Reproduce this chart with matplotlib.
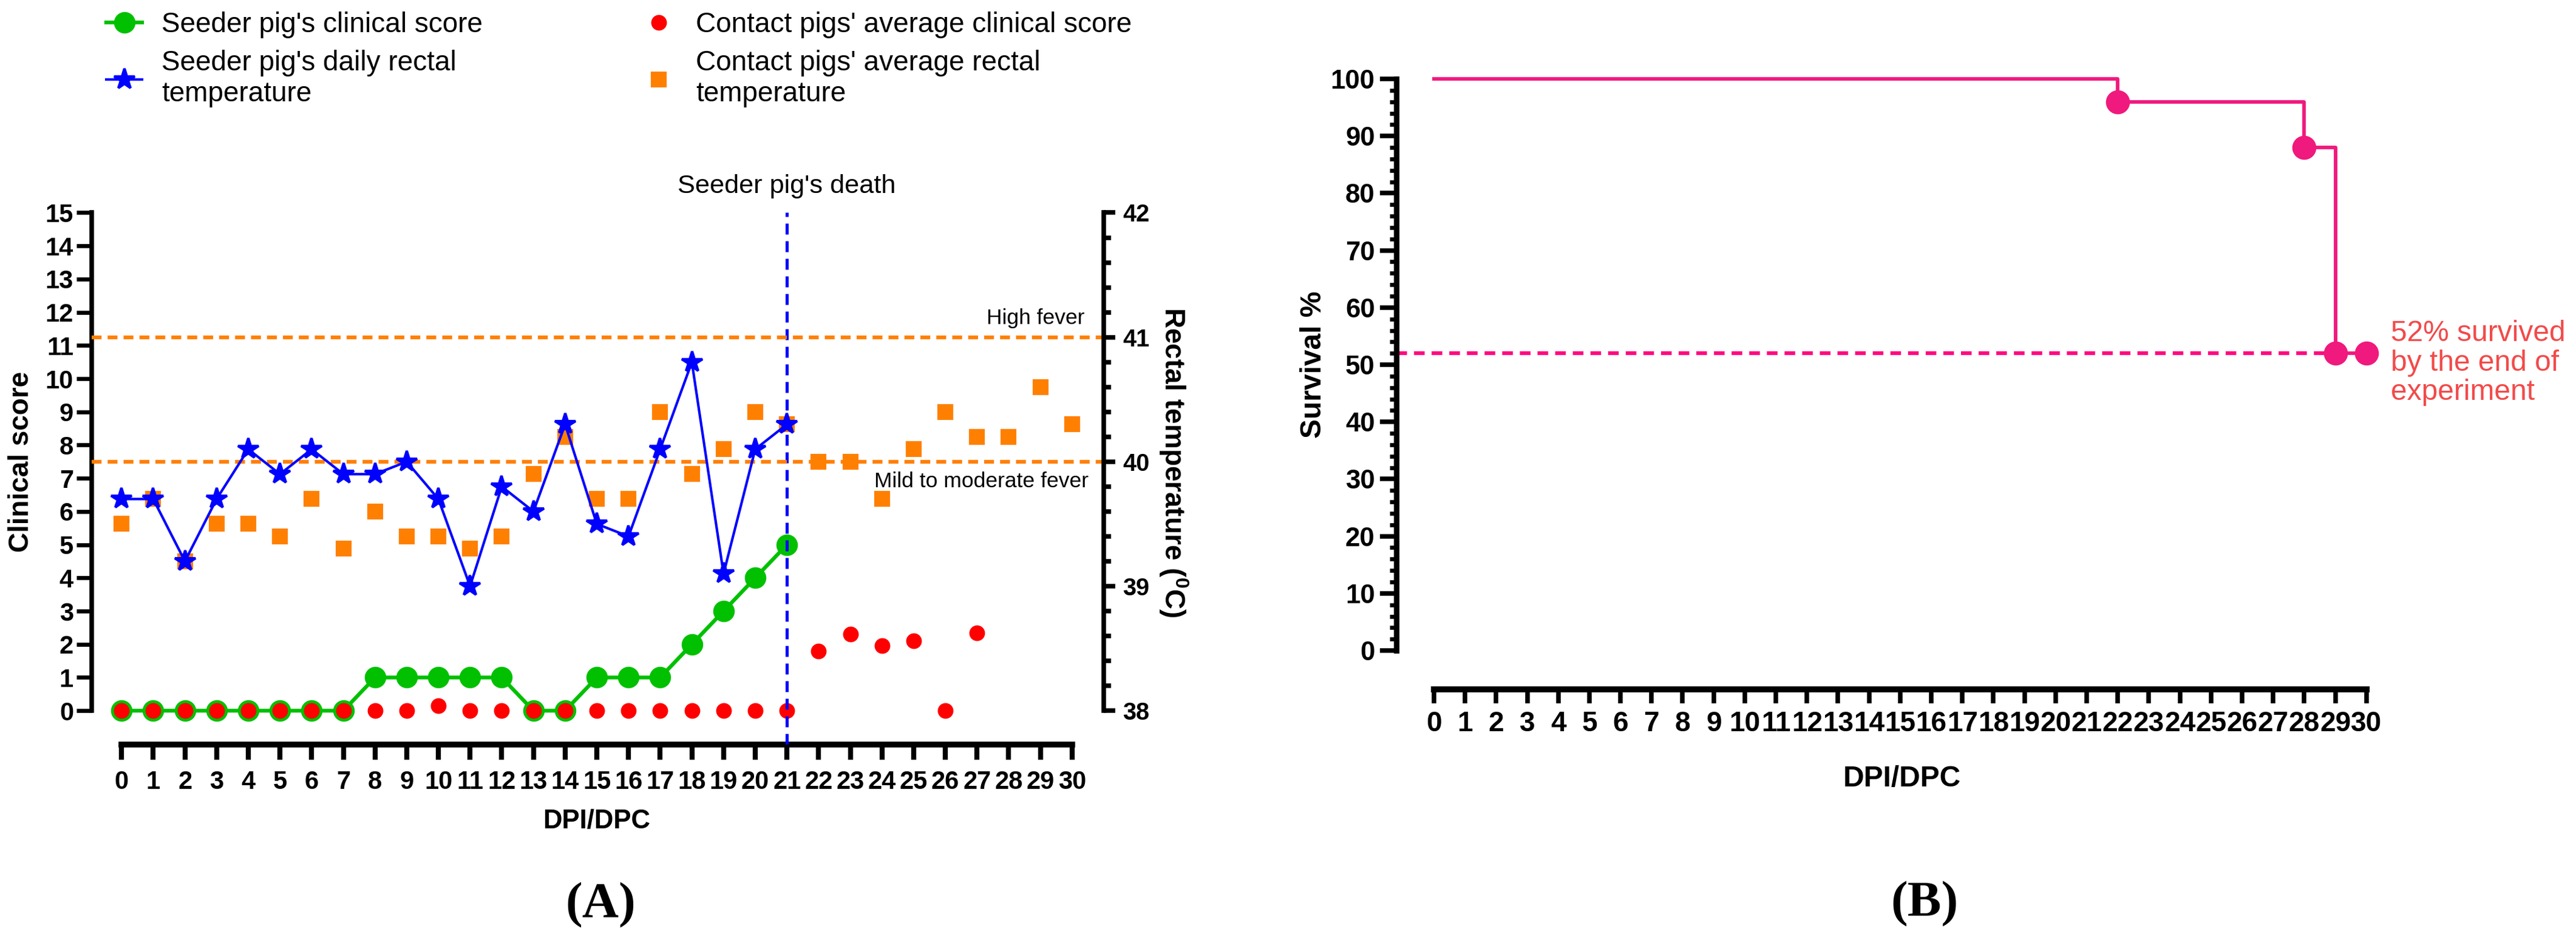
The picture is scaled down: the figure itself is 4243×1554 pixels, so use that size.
import matplotlib
matplotlib.use('Agg')
import numpy as np
import matplotlib.pyplot as plt
from matplotlib.lines import Line2D
from matplotlib.ticker import FixedLocator

plt.rcParams['font.family'] = ['Liberation Sans', 'DejaVu Sans']
plt.rcParams['mathtext.fontset'] = 'custom'
plt.rcParams['mathtext.rm'] = 'Liberation Sans'
plt.rcParams['mathtext.bf'] = 'Liberation Sans:bold'

# ---- data -------------------------------------------------------------
days = list(range(31))
seeder_days = list(range(22))
seeder_score = [0, 0, 0, 0, 0, 0, 0, 0, 1, 1, 1, 1, 1, 0, 0, 1, 1, 1, 2, 3, 4, 5]
seeder_temp = [39.7, 39.7, 39.2, 39.7, 40.1, 39.9, 40.1, 39.9, 39.9, 40.0, 39.7,
               39.0, 39.8, 39.6, 40.3, 39.5, 39.4, 40.1, 40.8, 39.1, 40.1, 40.3]
contact_days = list(range(28))
contact_score = [0, 0, 0, 0, 0, 0, 0, 0, 0, 0, 0.15, 0, 0, 0, 0, 0, 0, 0, 0, 0,
                 0, 0, 1.8, 2.3, 1.95, 2.1, 0, 2.35]
contact_temp = [39.5, 39.7, 39.2, 39.5, 39.5, 39.4, 39.7, 39.3, 39.6, 39.4, 39.4,
                39.3, 39.4, 39.9, 40.2, 39.7, 39.7, 40.4, 39.9, 40.1, 40.4, 40.3,
                40.0, 40.0, 39.7, 40.1, 40.4, 40.2, 40.2, 40.6, 40.3]
high_fever = 41
mild_fever = 40
death_day = 21

surv_days = [0, 22, 28, 29, 30]
surv_pct = [100, 96, 88, 52, 52]
surv_end = 52

# colours
green = '#00C000'
red = '#FF0000'
blue = '#0000FF'
orange = '#FF8000'
pink = '#F0197D'
pink_dash = '#FF0A80'
note_red = '#F24A4A'

FW, FH = 4243.0, 1554.0


def box(x0, y0, x1, y1):
    # pixel box (top-left origin) -> figure fraction rect
    return [x0 / FW, 1 - y1 / FH, (x1 - x0) / FW, (y1 - y0) / FH]


fig = plt.figure(figsize=(FW / 300, FH / 300), dpi=300)

# ---- panel A ----------------------------------------------------------
axA = fig.add_axes(box(151, 345, 1818, 1227))
ylo, yhi = -1.02, 15.1
axA.set_xlim(-0.943, 31.0)
axA.set_ylim(ylo, yhi)

axA.plot(seeder_days, seeder_score, color=green, lw=1.5, marker='o', ms=7.5,
         zorder=3)
axA.plot(contact_days, contact_score, ls='none', color=red, marker='o', ms=5.2,
         zorder=4)
axA.axvline(death_day, ymin=0, ymax=(15 - ylo) / (yhi - ylo), color=blue,
            lw=1.2, ls=(0, (3.6, 2.2)), zorder=5)

for s in ['top', 'right']:
    axA.spines[s].set_visible(False)
axA.spines['left'].set_bounds(0, 15)
axA.spines['bottom'].set_bounds(0, 30)
axA.spines['left'].set_linewidth(1.8)
axA.spines['bottom'].set_linewidth(2.3)

axA.set_yticks(range(16))
axA.set_yticklabels([str(v) for v in range(16)], fontweight='bold')
axA.set_xticks(days)
axA.set_xticklabels([str(d) for d in days], fontweight='bold')
axA.tick_params(axis='y', length=6, width=1.6, labelsize=10, pad=1.2)
axA.tick_params(axis='x', length=6, width=2, labelsize=10, pad=4)

axA.text(-0.0695, 0.528, 'Clinical score', transform=axA.transAxes,
         fontsize=11, fontweight='bold', rotation=90, ha='center',
         va='center')
axA.text(0.4986, -0.143, 'DPI/DPC', transform=axA.transAxes, fontsize=10.5,
         fontweight='bold', ha='center', va='center')
axA.text(death_day, 15.8, "Seeder pig's death", fontsize=10.4, ha='center',
         va='center', clip_on=False)

# temperature axis
ax2 = axA.twinx()
ax2.set_ylim(38 + ylo * 4 / 15, 38 + yhi * 4 / 15)
ax2.plot(days, contact_temp, ls='none', marker='s', ms=5.3, color=orange,
         zorder=2)
ax2.plot(seeder_days, seeder_temp, color=blue, lw=1, marker='*', ms=8.5,
         zorder=3)
ax2.axhline(high_fever, color=orange, lw=1.5, ls=(0, (2.6, 1.6)), zorder=1)
ax2.axhline(mild_fever, color=orange, lw=1.5, ls=(0, (2.6, 1.6)), zorder=1)
ax2.text(30.4, 41.15, 'High fever', fontsize=8.5, ha='right', va='center')
ax2.text(30.53, 39.84, 'Mild to moderate fever', fontsize=8.5, ha='right',
         va='center')

for s in ['top', 'left', 'bottom']:
    ax2.spines[s].set_visible(False)
ax2.spines['right'].set_bounds(38, 42)
ax2.spines['right'].set_linewidth(1.8)
ax2.set_yticks([38, 39, 40, 41, 42])
ax2.set_yticklabels(['38', '39', '40', '41', '42'], fontweight='bold')
ax2.yaxis.set_minor_locator(FixedLocator(np.arange(38, 42.01, 0.2)))
ax2.tick_params(axis='y', which='major', length=4.5, width=1.8, labelsize=9.5,
                pad=3)
ax2.tick_params(axis='y', which='minor', length=2.8, width=1.8)
ax2.text(1.069, 0.528, r'Rectal temperature (${}^{\mathbf{0}}$C)',
         transform=ax2.transAxes, fontsize=11, fontweight='bold',
         rotation=270, ha='center', va='center')

# legend (two columns)
leg_kw = dict(loc='upper left', frameon=False, fontsize=11, borderpad=0,
              borderaxespad=0, handlelength=1.29, handletextpad=0.7,
              labelspacing=0.42)
h1 = [Line2D([], [], color=green, lw=1.5, marker='o', ms=7.5),
      Line2D([], [], color=blue, lw=1, marker='*', ms=8.5)]
fig.legend(h1, ["Seeder pig's clinical score",
                "Seeder pig's daily rectal\ntemperature"],
           bbox_to_anchor=(175 / FW, 1 - 19 / FH), **leg_kw)
h2 = [Line2D([], [], ls='none', color=red, marker='o', ms=5.2),
      Line2D([], [], ls='none', color=orange, marker='s', ms=5.3)]
fig.legend(h2, ["Contact pigs' average clinical score",
                "Contact pigs' average rectal\ntemperature"],
           bbox_to_anchor=(1055 / FW, 1 - 19 / FH), **leg_kw)

fig.text(989 / FW, 1 - 1492 / FH, '(A)', fontsize=20, fontweight='bold',
         family='Liberation Serif', ha='center', va='center')

# ---- panel B ----------------------------------------------------------
axB = fig.add_axes(box(2300, 125.5, 3908, 1136))
axB.set_xlim(-1.21, 30.2)
axB.set_ylim(-6.79, 100.48)

axB.plot(surv_days, surv_pct, color=pink, lw=1.4, drawstyle='steps-post',
         zorder=3)
axB.plot(surv_days[1:], surv_pct[1:], ls='none', color=pink, marker='o',
         ms=8.5, zorder=4, clip_on=False)
axB.axhline(surv_end, xmin=0, xmax=(29 + 1.21) / (30.2 + 1.21),
            color=pink_dash, lw=1.5, ls=(0, (2.8, 1.85)), zorder=2)
axB.text(30.78, 50.3, '52% survived\nby the end of\nexperiment',
         color=note_red, fontsize=11.5, ha='left', va='center',
         linespacing=1.1, clip_on=False)

for s in ['top', 'right']:
    axB.spines[s].set_visible(False)
axB.spines['left'].set_bounds(0, 100)
axB.spines['bottom'].set_bounds(0, 30)
axB.spines['left'].set_linewidth(2.2)
axB.spines['bottom'].set_linewidth(2.4)

axB.set_yticks(range(0, 101, 10))
axB.set_yticklabels([str(v) for v in range(0, 101, 10)], fontweight='bold')
axB.yaxis.set_minor_locator(FixedLocator(range(0, 101, 2)))
axB.set_xticks(days)
axB.set_xticklabels([str(d) for d in days], fontweight='bold')
axB.tick_params(axis='y', which='major', length=6.5, width=1.8,
                labelsize=10.5, pad=2)
axB.tick_params(axis='y', which='minor', length=2.6, width=1.6)
axB.tick_params(axis='x', length=5.5, width=1.8, labelsize=11, pad=3)

axB.text(-0.085, 0.5 + 0.5 * 6.79 / 107.27 - 0.5 * 0.48 / 107.27,
         'Survival %', transform=axB.transAxes, fontsize=11.5,
         fontweight='bold', rotation=90, ha='center', va='center')
axB.text(0.518, -0.1455, 'DPI/DPC', transform=axB.transAxes, fontsize=11.5,
         fontweight='bold', ha='center', va='center')

fig.text(3170 / FW, 1 - 1490 / FH, '(B)', fontsize=20, fontweight='bold',
         family='Liberation Serif', ha='center', va='center')

fig.savefig('out.png', dpi=300)
